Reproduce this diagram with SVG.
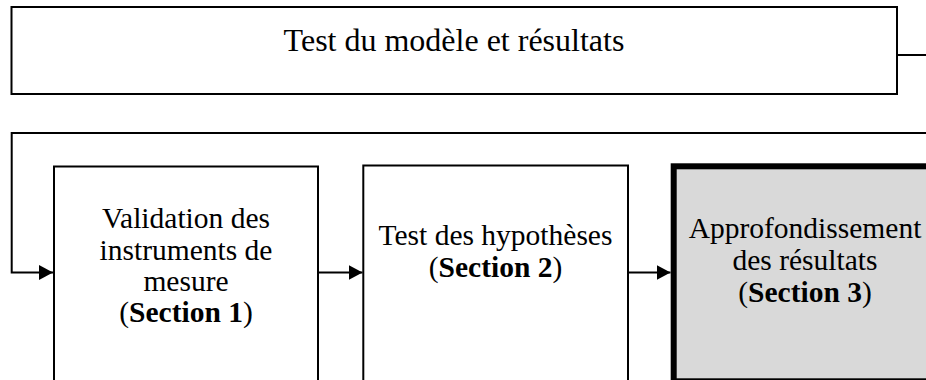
<svg xmlns="http://www.w3.org/2000/svg" width="926" height="380" viewBox="0 0 926 380">
  <style>
    .box { fill: #ffffff; stroke: #000000; stroke-width: 2; }
    .hl { fill: #d9d9d9; stroke: #000000; stroke-width: 6; }
    .edge { fill: none; stroke: #000000; stroke-width: 2; }
    text { font-family: "Liberation Serif", "Times New Roman", serif; font-size: 29.5px; fill: #000000; text-anchor: middle; }
    .title { font-size: 32px; }
    .b { font-weight: bold; }
  </style>
  <defs>
    <marker id="arrow" markerUnits="userSpaceOnUse" markerWidth="15" markerHeight="16" refX="14" refY="7.5" orient="auto">
      <path d="M0,0 L14,7.5 L0,15 Z" fill="#000000"/>
    </marker>
  </defs>
  <rect width="926" height="380" fill="#ffffff"/>

  <g id="connectors">
    <line class="edge" x1="897" y1="55" x2="926" y2="55"/>
    <polyline class="edge" points="926,133 11.7,133 11.7,272.5 53,272.5" marker-end="url(#arrow)"/>
    <line class="edge" x1="318" y1="272.5" x2="362.5" y2="272.5" marker-end="url(#arrow)"/>
    <line class="edge" x1="628" y1="272.5" x2="670.5" y2="272.5" marker-end="url(#arrow)"/>
  </g>

  <g id="node-title">
    <rect class="box" x="11.5" y="7" width="885.5" height="87"/>
    <text class="title" x="454" y="51">Test du modèle et résultats</text>
  </g>

  <g id="node-section1">
    <rect class="box" x="54" y="166.5" width="264" height="240"/>
    <text x="186" y="228">Validation des</text>
    <text x="186" y="260">instruments de</text>
    <text x="186" y="291">mesure</text>
    <text x="186" y="322">(<tspan class="b">Section 1</tspan>)</text>
  </g>

  <g id="node-section2">
    <rect class="box" x="363.3" y="165.5" width="264.7" height="240"/>
    <text x="495.5" y="245">Test des hypothèses</text>
    <text x="495.5" y="277">(<tspan class="b">Section 2</tspan>)</text>
  </g>

  <g id="node-section3">
    <rect class="hl" x="673.7" y="166.3" width="270" height="215"/>
    <text x="805" y="238">Approfondissement</text>
    <text x="805" y="270">des résultats</text>
    <text x="805" y="302">(<tspan class="b">Section 3</tspan>)</text>
  </g>
</svg>
